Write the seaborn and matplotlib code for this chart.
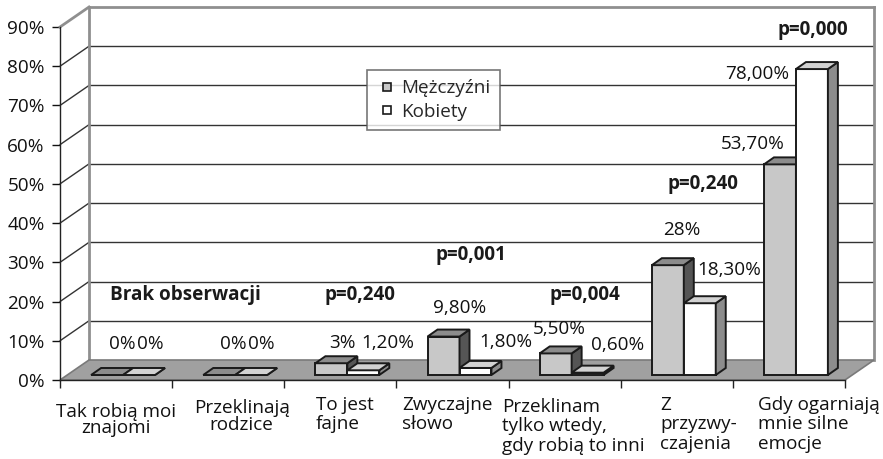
import numpy as np
import pandas as pd
import matplotlib
matplotlib.use("Agg")
import matplotlib.pyplot as plt
from matplotlib.patches import Polygon
from matplotlib.lines import Line2D
import seaborn as sns

# Dane
categories = ["Tak robią moi\nznajomi", "Przeklinają\nrodzice", "To jest\nfajne",
              "Zwyczajne\nsłowo", "Przeklinam\ntylko wtedy,\ngdy robią to inni",
              "Z\nprzyzwy-\nczajenia", "Gdy ogarniają\nmnie silne\nemocje"]
series = ["Mężczyźni", "Kobiety"]
men = [0.0, 0.0, 0.03, 0.098, 0.055, 0.28, 0.537]
women = [0.0, 0.0, 0.012, 0.018, 0.006, 0.183, 0.78]
men_labels = ["0%", "0%", "3%", "9,80%", "5,50%", "28%", "53,70%"]
women_labels = ["0%", "0%", "1,20%", "1,80%", "0,60%", "18,30%", "78,00%"]
p_labels = ["Brak obserwacji", "p=0,240", "p=0,001", "p=0,004", "p=0,240", "p=0,000"]
yticks = [0.0, 0.1, 0.2, 0.3, 0.4, 0.5, 0.6, 0.7, 0.8, 0.9]
ytick_labels = ["0%", "10%", "20%", "30%", "40%", "50%", "60%", "70%", "80%", "90%"]

# Rozmieszczenie opisów (poza danymi)
p_pos = [(0.615, 0.224), (2.175, 0.224), (3.165, 0.324), (4.18, 0.224), (5.234, 0.505), (6.215, 0.90)]
men_off = [(15, -33), (14, -33), (11, -22), (16, -31), (4, -26), (14, -37), (-27, -22)]
women_off = [(11, -33), (10, -33), (24, -29), (30, -28), (30, -30), (29, -35), (-55, 3)]
cat_x = [0.0, 1.12, 1.78, 2.55, 3.44, 4.85, 5.72]
cat_ha = ["center", "center", "left", "left", "left", "left", "left"]
cat_dy = [-23, -19, -16, -16, -18, -16, -16]
cat_ls = [0.85, 0.92, 1.1, 1.1, 1.1, 1.1, 1.1]

FS = 13.6
EDGE = "#1a1a1a"
colors = ["#c8c8c8", "#ffffff"]
top_colors = ["#8c8c8c", "#d2d2d2"]
side_colors = ["#555555", "#8c8c8c"]

df = pd.DataFrame({
    "kategoria": categories * 2,
    "plec": [series[0]] * len(categories) + [series[1]] * len(categories),
    "udzial": men + women,
})

sns.set_theme(style="white")
plt.rcParams["font.family"] = ["Open Sans", "DejaVu Sans"]

fig = plt.figure(figsize=(8.83, 4.59), dpi=100)
ax = fig.add_axes([60 / 883, (459 - 380) / 459, 785 / 883, 353 / 459])

sns.barplot(data=df, x="kategoria", y="udzial", hue="plec", hue_order=series,
            palette=colors, saturation=1, width=0.57, edgecolor=EDGE,
            linewidth=1.4, legend=False, ax=ax)

n = len(categories)
ax.set_xlim(-0.5, n - 0.5)
ax.set_ylim(0, 0.9)

# przeliczenie pikseli na jednostki danych
fw, fh = fig.get_size_inches() * fig.dpi
pos = ax.get_position()
sx = pos.width * fw / n
sy = pos.height * fh / 0.9


def px(dx, dy):
    return dx / sx, dy / sy


wx, wy = px(29, 20)      # głębokość ścian
bx, by = px(7, 5)        # przesunięcie słupków w głąb
dx, dy = px(10, 7)       # głębokość słupka

x0, x1 = -0.5, n - 0.5

# tylna ściana
ax.add_patch(Polygon([(x0 + wx, wy), (x1 + wx, wy), (x1 + wx, 0.9 + wy), (x0 + wx, 0.9 + wy)],
                     closed=True, facecolor="white", edgecolor="none", zorder=0.5, clip_on=False))
for y in yticks[1:-1]:
    ax.plot([x0 + wx, x1 + wx], [y + wy, y + wy], color="#333333", lw=1, zorder=0.6, clip_on=False)
    ax.plot([x0, x0 + wx], [y, y + wy], color="#333333", lw=1, zorder=0.6, clip_on=False)
for xs, ys in [([x0 + wx, x0 + wx], [wy, 0.9 + wy]), ([x1 + wx, x1 + wx], [wy, 0.9 + wy]),
               ([x0 + wx, x1 + wx], [0.9 + wy, 0.9 + wy]), ([x0, x0 + wx], [0.9, 0.9 + wy])]:
    ax.plot(xs, ys, color="#8f8f8f", lw=2, zorder=0.7, clip_on=False, solid_capstyle="projecting")

# podłoga
ax.add_patch(Polygon([(x0, 0), (x1, 0), (x1 + wx, wy), (x0 + wx, wy)], closed=True,
                     facecolor="#a0a0a0", edgecolor="#7a7a7a", lw=1.2, zorder=0.8, clip_on=False))

# słupki 3D
for k, cont in enumerate(ax.containers):
    offs = men_off if k == 0 else women_off
    labs = men_labels if k == 0 else women_labels
    for i, bar in enumerate(cont):
        z = 3 + i * 0.1 + k * 0.05
        xa = bar.get_x() + bx
        w = bar.get_width()
        h = bar.get_height()
        bar.set_x(xa)
        bar.set_y(by)
        bar.set_zorder(z)
        bar.set_clip_on(False)
        bar.set_joinstyle("miter")
        xb = xa + w
        side = Polygon([(xb, by), (xb, by + h), (xb + dx, by + h + dy), (xb + dx, by + dy)],
                       closed=True, facecolor=side_colors[k], edgecolor=EDGE, lw=1.4,
                       joinstyle="miter", zorder=z + 0.01, clip_on=False)
        top = Polygon([(xa, by + h), (xb, by + h), (xb + dx, by + h + dy), (xa + dx, by + h + dy)],
                      closed=True, facecolor=top_colors[k], edgecolor=EDGE, lw=1.4,
                      joinstyle="miter", zorder=z + 0.02, clip_on=False)
        ax.add_patch(side)
        ax.add_patch(top)
        ox, oy = offs[i]
        ax.annotate(labs[i], xy=(xa + w / 2, by + h), xytext=(ox, -oy), textcoords="offset pixels",
                    ha="center", va="center_baseline", fontsize=FS, color="#111111",
                    annotation_clip=False, zorder=10)

# wartości p
for (px_, py_), t in zip(p_pos, p_labels):
    ax.text(px_, py_, t, ha="center", va="center_baseline", fontsize=FS,
            fontweight="bold", color="#1a1a1a", zorder=10)

# osie
ax.set_yticks(yticks)
ax.set_yticklabels(ytick_labels)
ax.set_xticks(np.arange(-0.5, n, 1.0))
ax.set_xticklabels([])
ax.set_xlabel("")
ax.set_ylabel("")
ax.tick_params(axis="y", length=6, width=1, pad=5, labelsize=FS, colors="#111111", left=True)
ax.tick_params(axis="x", length=6, width=1, colors="#222222", bottom=True)
for s in ["top", "right"]:
    ax.spines[s].set_visible(False)
for s in ["left", "bottom"]:
    ax.spines[s].set_color("#222222")
    ax.spines[s].set_linewidth(1.0)
    ax.spines[s].set_zorder(2)
ax.set_facecolor("none")

# etykiety kategorii
for x, lab, ha, oy, ls in zip(cat_x, categories, cat_ha, cat_dy, cat_ls):
    ax.annotate(lab, xy=(x, 0), xycoords=("data", "axes fraction"), xytext=(0, oy),
                textcoords="offset pixels", ha=ha, va="top", multialignment=ha,
                fontsize=FS, linespacing=ls, color="#111111", annotation_clip=False)

# legenda
handles = [Line2D([], [], marker="s", ls="", markersize=5.5, markerfacecolor=c,
                  markeredgecolor=EDGE, markeredgewidth=1.2) for c in colors]
leg = ax.legend(handles, series, loc="upper left", bbox_to_anchor=(367 / 883, 1 - 70 / 459),
                bbox_transform=fig.transFigure, borderaxespad=0, frameon=True, fancybox=False,
                fontsize=FS, handlelength=1.1, handletextpad=0.2, labelspacing=0.28,
                borderpad=0.5)
leg.get_frame().set_edgecolor("#555555")
leg.get_frame().set_linewidth(1.2)
leg.set_zorder(20)

fig.savefig("out.png", dpi=100, facecolor="white")
